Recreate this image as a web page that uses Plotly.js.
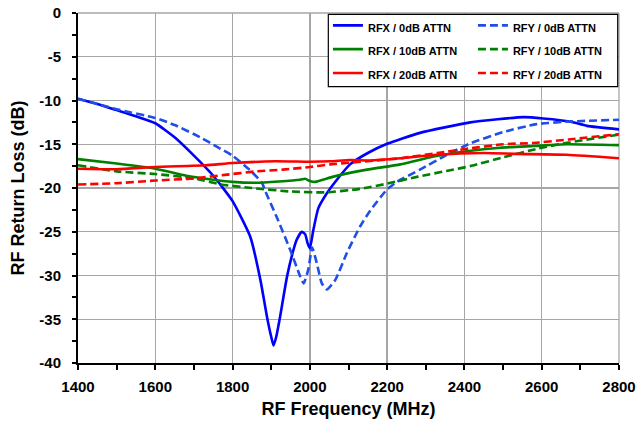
<!DOCTYPE html>
<html>
<head>
<meta charset="utf-8">
<script src="https://cdn.plot.ly/plotly-3.0.1.min.js"></script>
<style>html,body{margin:0;padding:0;background:#fff;}#chart{width:639px;height:423px;}</style>
</head>
<body>
<div id="chart"></div>
<script>
// Frequencies (MHz) and return loss (dB) per series
const rfx0F = [1400,1450,1500,1550,1600,1650,1700,1750,1800,1846,1872,1889,1900,1906,1913,1923,1941,1958,1966,1979,1988,1994,2000,2009,2022,2044,2070,2104,2150,2200,2285,2415,2553,2604,2673,2717,2800];
const rfx0 = [-9.8,-10.4,-11.1,-11.8,-12.6,-14.2,-16.3,-18.6,-21.5,-25.6,-30.5,-34.7,-37.0,-38.0,-37.0,-34.7,-30.1,-27.0,-25.9,-25.0,-25.3,-26.3,-26.9,-24.8,-22.3,-20.6,-19.05,-17.3,-16.0,-14.95,-13.7,-12.5,-11.9,-12.05,-12.4,-12.9,-13.3];

const rfy0F = [1400,1458,1500,1600,1650,1716,1760,1800,1846,1876,1885,1915,1949,1975,1984,1996,2006,2018,2031,2044,2066,2096,2130,2156,2199,2225,2285,2355,2415,2501,2587,2673,2800];
const rfy0 = [-9.8,-10.5,-11.0,-12.0,-12.8,-14.2,-15.3,-16.3,-18.0,-19.4,-20.4,-23.4,-27.05,-30.1,-30.9,-29.3,-26.8,-28.6,-30.9,-31.6,-30.5,-27.4,-24.4,-22.6,-20.2,-19.3,-17.9,-16.2,-14.9,-13.6,-12.7,-12.4,-12.2];

const rfx10F = [1400,1500,1600,1680,1740,1800,1860,1920,1975,1988,2000,2014,2061,2148,2234,2320,2406,2492,2579,2665,2800];
const rfx10 = [-16.7,-17.2,-17.8,-18.6,-19.0,-19.3,-19.4,-19.25,-19.05,-18.95,-19.2,-19.3,-18.7,-17.9,-17.3,-16.4,-15.8,-15.4,-15.2,-15.0,-15.1];

const rfy10F = [1400,1500,1600,1700,1770,1850,1950,2040,2130,2200,2280,2360,2415,2500,2590,2670,2800];
const rfy10 = [-17.4,-18.1,-18.4,-18.9,-19.6,-20.0,-20.4,-20.5,-20.1,-19.5,-18.7,-18.0,-17.5,-16.5,-15.5,-14.8,-13.9];

const rfx20F = [1400,1500,1600,1730,1800,1910,2000,2053,2104,2156,2234,2329,2450,2536,2665,2800];
const rfx20 = [-17.8,-17.85,-17.6,-17.4,-17.15,-16.95,-17.0,-16.95,-16.8,-16.85,-16.6,-16.2,-16.0,-16.1,-16.2,-16.6];

const rfy20F = [1400,1500,1600,1700,1780,1860,1930,2000,2053,2104,2234,2330,2410,2500,2580,2670,2800];
const rfy20 = [-19.6,-19.45,-19.15,-18.9,-18.5,-18.1,-17.9,-17.6,-17.3,-17.1,-16.6,-16.0,-15.5,-15.0,-14.85,-14.45,-13.85];

const names = ['RFX / 0dB ATTN','RFY / 0dB ATTN','RFX / 10dB ATTN','RFY / 10dB ATTN','RFX / 20dB ATTN','RFY / 20dB ATTN'];
const xTicks = [1400,1600,1800,2000,2200,2400,2600,2800];
const yTicks = [0,-5,-10,-15,-20,-25,-30,-35,-40];

const BLUE='#0000ff', BLUE2='#1f4fe6', GREEN='#008000', RED='#ff0000';
const W=2.6, DASH='8px,4px';
function tr(x,y,name,color,dash,leg){
  return {x:x,y:y,name:'<span style="font-size:11px">'+name+'</span>',type:'scatter',mode:'lines',legend:leg,
          line:{color:color,width:W,dash:dash,shape:'spline',smoothing:0.5}};
}
const data = [
  tr(rfx0F,rfx0,names[0],BLUE,'solid','legend'),
  tr(rfy0F,rfy0,names[1],BLUE2,DASH,'legend2'),
  tr(rfx10F,rfx10,names[2],GREEN,'solid','legend'),
  tr(rfy10F,rfy10,names[3],GREEN,DASH,'legend2'),
  tr(rfx20F,rfx20,names[4],RED,'solid','legend'),
  tr(rfy20F,rfy20,names[5],RED,DASH,'legend2')
];
const FONT = 'Arial, "Liberation Sans", sans-serif';
const LEGFONT = {family:FONT,size:16,weight:700,color:'#000'};
const layout = {
  width:639, height:423,
  margin:{l:78,r:20,t:13,b:60,autoexpand:false},
  paper_bgcolor:'#fff', plot_bgcolor:'#fff',
  font:{family:FONT,color:'#000'},
  showlegend:true,
  legend:{
    x:0.462, y:1.013, xanchor:'left', yanchor:'top', orientation:'v',
    bgcolor:'rgba(0,0,0,0)', borderwidth:0, font:LEGFONT, traceorder:'normal'
  },
  legend2:{
    x:0.730, y:1.013, xanchor:'left', yanchor:'top', orientation:'v',
    bgcolor:'rgba(0,0,0,0)', borderwidth:0, font:LEGFONT, traceorder:'normal'
  },
  shapes:[
    {type:'line',xref:'paper',yref:'paper',x0:0,x1:1,y0:1,y1:1,line:{color:'#a6a6a6',width:1.3},layer:'below'},
    {type:'line',xref:'paper',yref:'paper',x0:1,x1:1,y0:0,y1:1,line:{color:'#a6a6a6',width:1.3},layer:'below'},
    {type:'rect',xref:'paper',yref:'paper',x0:0.4627,x1:0.9976,y0:0.7894,y1:0.9963,
     fillcolor:'#ffffff',line:{color:'#000',width:1.2},layer:'above'}
  ],
  xaxis:{
    range:[1400,2800], tickvals:xTicks, ticktext:xTicks.map(String),
    showline:true, linecolor:'#000', linewidth:2,
    ticks:'outside', ticklen:5, tickwidth:2, tickcolor:'#000',
    minor:{dtick:100, tick0:1400, ticks:'outside', ticklen:5, tickwidth:2, tickcolor:'#000', showgrid:false},
    showgrid:true, gridcolor:'#a6a6a6', gridwidth:1.3, zeroline:false,
    tickfont:{family:FONT,size:15,weight:700},
    ticklabelstandoff:4,
    title:{text:'RF Frequency (MHz)', font:{family:FONT,size:18,weight:700}, standoff:8}
  },
  yaxis:{
    range:[-40,0], tickvals:yTicks, ticktext:yTicks.map(String),
    showline:true, linecolor:'#000', linewidth:2,
    ticks:'outside', ticklen:4, tickwidth:2, tickcolor:'#000',
    minor:{dtick:2.5, tick0:0, ticks:'outside', ticklen:4, tickwidth:2, tickcolor:'#000', showgrid:false},
    showgrid:true, gridcolor:'#a6a6a6', gridwidth:1.3, zeroline:false,
    tickfont:{family:FONT,size:15,weight:700},
    ticklabelstandoff:8,
    title:{text:'RF Return Loss (dB)', font:{family:FONT,size:18,weight:700}, standoff:10}
  },
  xaxis2:{
    overlaying:'x', anchor:'y', side:'bottom', range:[1400,2800], dtick:100, tick0:1400,
    ticks:'inside', ticklen:5, tickwidth:2, tickcolor:'#000',
    showticklabels:false, showgrid:false, zeroline:false, showline:false
  },
  yaxis2:{
    overlaying:'y', anchor:'x', side:'left', range:[-40,0], dtick:2.5, tick0:0,
    ticks:'inside', ticklen:4, tickwidth:2, tickcolor:'#000',
    showticklabels:false, showgrid:false, zeroline:false, showline:false
  }
};
Plotly.newPlot('chart', data, layout, {displayModeBar:false, staticPlot:true});
</script>
</body>
</html>
